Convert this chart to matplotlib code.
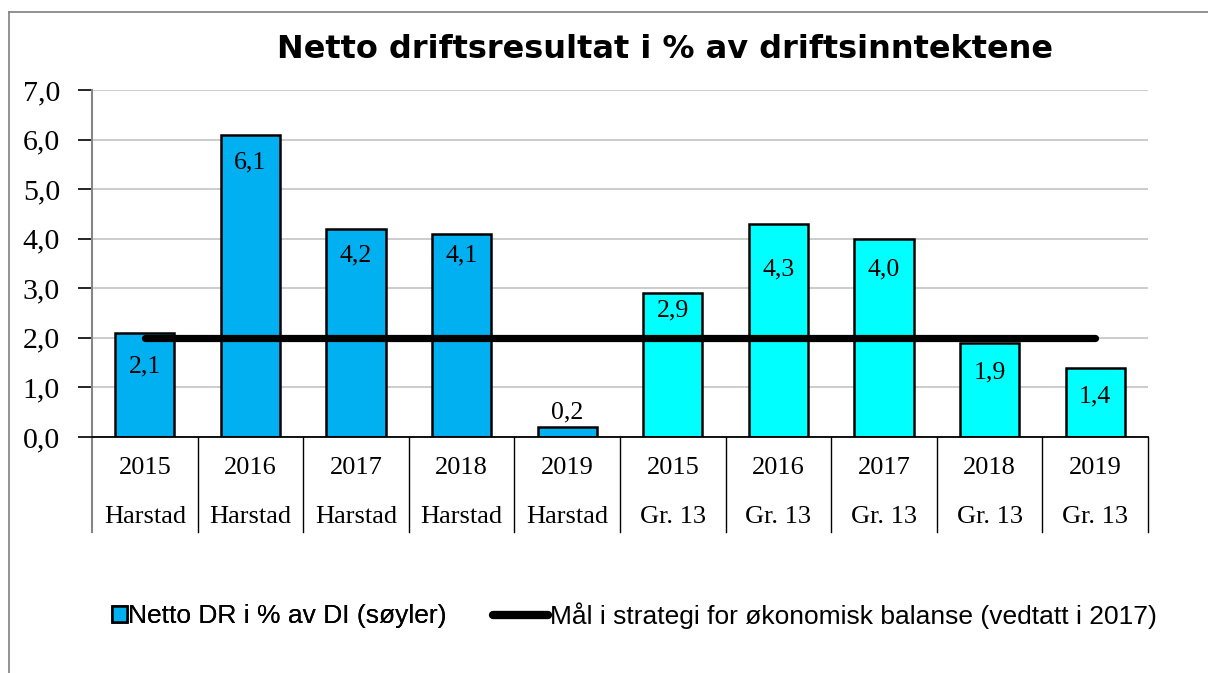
# Netto driftsresultat - Harstad vs Gr. 13
import matplotlib.pyplot as plt
import matplotlib.transforms as mtransforms
from matplotlib.patches import Patch
from matplotlib.lines import Line2D

years = ["2015", "2016", "2017", "2018", "2019", "2015", "2016", "2017", "2018", "2019"]
groups = ["Harstad"] * 5 + ["Gr. 13"] * 5
values = [2.1, 6.1, 4.2, 4.1, 0.2, 2.9, 4.3, 4.0, 1.9, 1.4]
# where each value label sits (value units)
label_y = [1.43, 5.54, 3.67, 3.67, 0.50, 2.56, 3.37, 3.37, 1.31, 0.81]
target = 2.0

col_harstad = "#00B0F0"
col_gr13 = "#00FFFF"
colors = [col_harstad if g == "Harstad" else col_gr13 for g in groups]

serif = "Liberation Serif"
sans = "Liberation Sans"

fig = plt.figure(figsize=(12.08, 6.73), dpi=100)
ax = fig.add_axes([92 / 1208, 1 - 437 / 673, 1056 / 1208, 347 / 673])

x = list(range(len(values)))
ax.bar(x, values, width=0.56, color=colors, edgecolor="black", linewidth=1.8, zorder=2)
ax.plot([x[0], x[-1]], [target, target], color="black", linewidth=5.2,
        solid_capstyle="round", zorder=3)

for xi, v, ly in zip(x, values, label_y):
    ax.text(xi, ly, f"{v:.1f}".replace(".", ","), ha="center", va="center",
            fontsize=18.5, family=serif, zorder=4)

ax.set_xlim(-0.5, len(values) - 0.5)
ax.set_ylim(0, 7)
ax.set_yticks([i for i in range(8)])
ax.set_yticklabels([f"{i},0" for i in range(8)], fontsize=21.5, family=serif)
ax.tick_params(axis="y", direction="out", length=10, width=1.2, color="black", pad=13)
ax.set_xticks([])
ax.grid(axis="y", color="#C8C8C8", linewidth=1.3, zorder=0)
ax.set_axisbelow(True)

for s in ["top", "right"]:
    ax.spines[s].set_visible(False)
ax.spines["left"].set_color("#868686")
ax.spines["left"].set_linewidth(1.5)
ax.spines["bottom"].set_color("black")
ax.spines["bottom"].set_linewidth(1.3)

# two-row category axis
trans = mtransforms.blended_transform_factory(ax.transData, ax.transAxes)
for xi, yr, g in zip(x, years, groups):
    ax.text(xi, -31 / 347, yr, transform=trans, ha="center", va="center",
            fontsize=19, family=serif)
    ax.text(xi, -80 / 347, g, transform=trans, ha="center", va="center",
            fontsize=19, family=serif)
for b in range(len(values) + 1):
    ax.plot([b - 0.5, b - 0.5], [0, -95 / 347], transform=trans, clip_on=False,
            color="#868686" if b == 0 else "black", linewidth=1.5 if b == 0 else 1.0)

fig.text(665 / 1208, 1 - 49 / 673, "Netto driftsresultat i % av driftsinntektene",
         ha="center", va="center", fontsize=23, fontweight="bold", family="DejaVu Sans")

# legend
h1 = Patch(facecolor=col_harstad, edgecolor="black", linewidth=1.8)
h2 = Line2D([0], [0], color="black", linewidth=6, solid_capstyle="round")
leg1 = fig.legend(handles=[h1], labels=["Netto DR i % av DI (søyler)"],
                  loc="center left", bbox_to_anchor=(112 / 1208, 1 - 616 / 673),
                  frameon=False, borderpad=0, borderaxespad=0, handlelength=0.55,
                  handleheight=0.55, handletextpad=0.05,
                  prop={"family": sans, "size": 19})
fig.add_artist(leg1)
fig.legend(handles=[h2], labels=["Mål i strategi for økonomisk balanse (vedtatt i 2017)"],
           loc="center left", bbox_to_anchor=(493 / 1208, 1 - 616 / 673),
           frameon=False, borderpad=0, borderaxespad=0, handlelength=2.1,
           handletextpad=0.05, prop={"family": sans, "size": 19})

# outer chart frame
fig.add_artist(Line2D([9 / 1208, 9 / 1208], [0, 1 - 12 / 673], color="#7F7F7F", linewidth=1.2))
fig.add_artist(Line2D([9 / 1208, 1], [1 - 12 / 673, 1 - 12 / 673], color="#7F7F7F", linewidth=1.2))

fig.savefig("out.png", dpi=100)
